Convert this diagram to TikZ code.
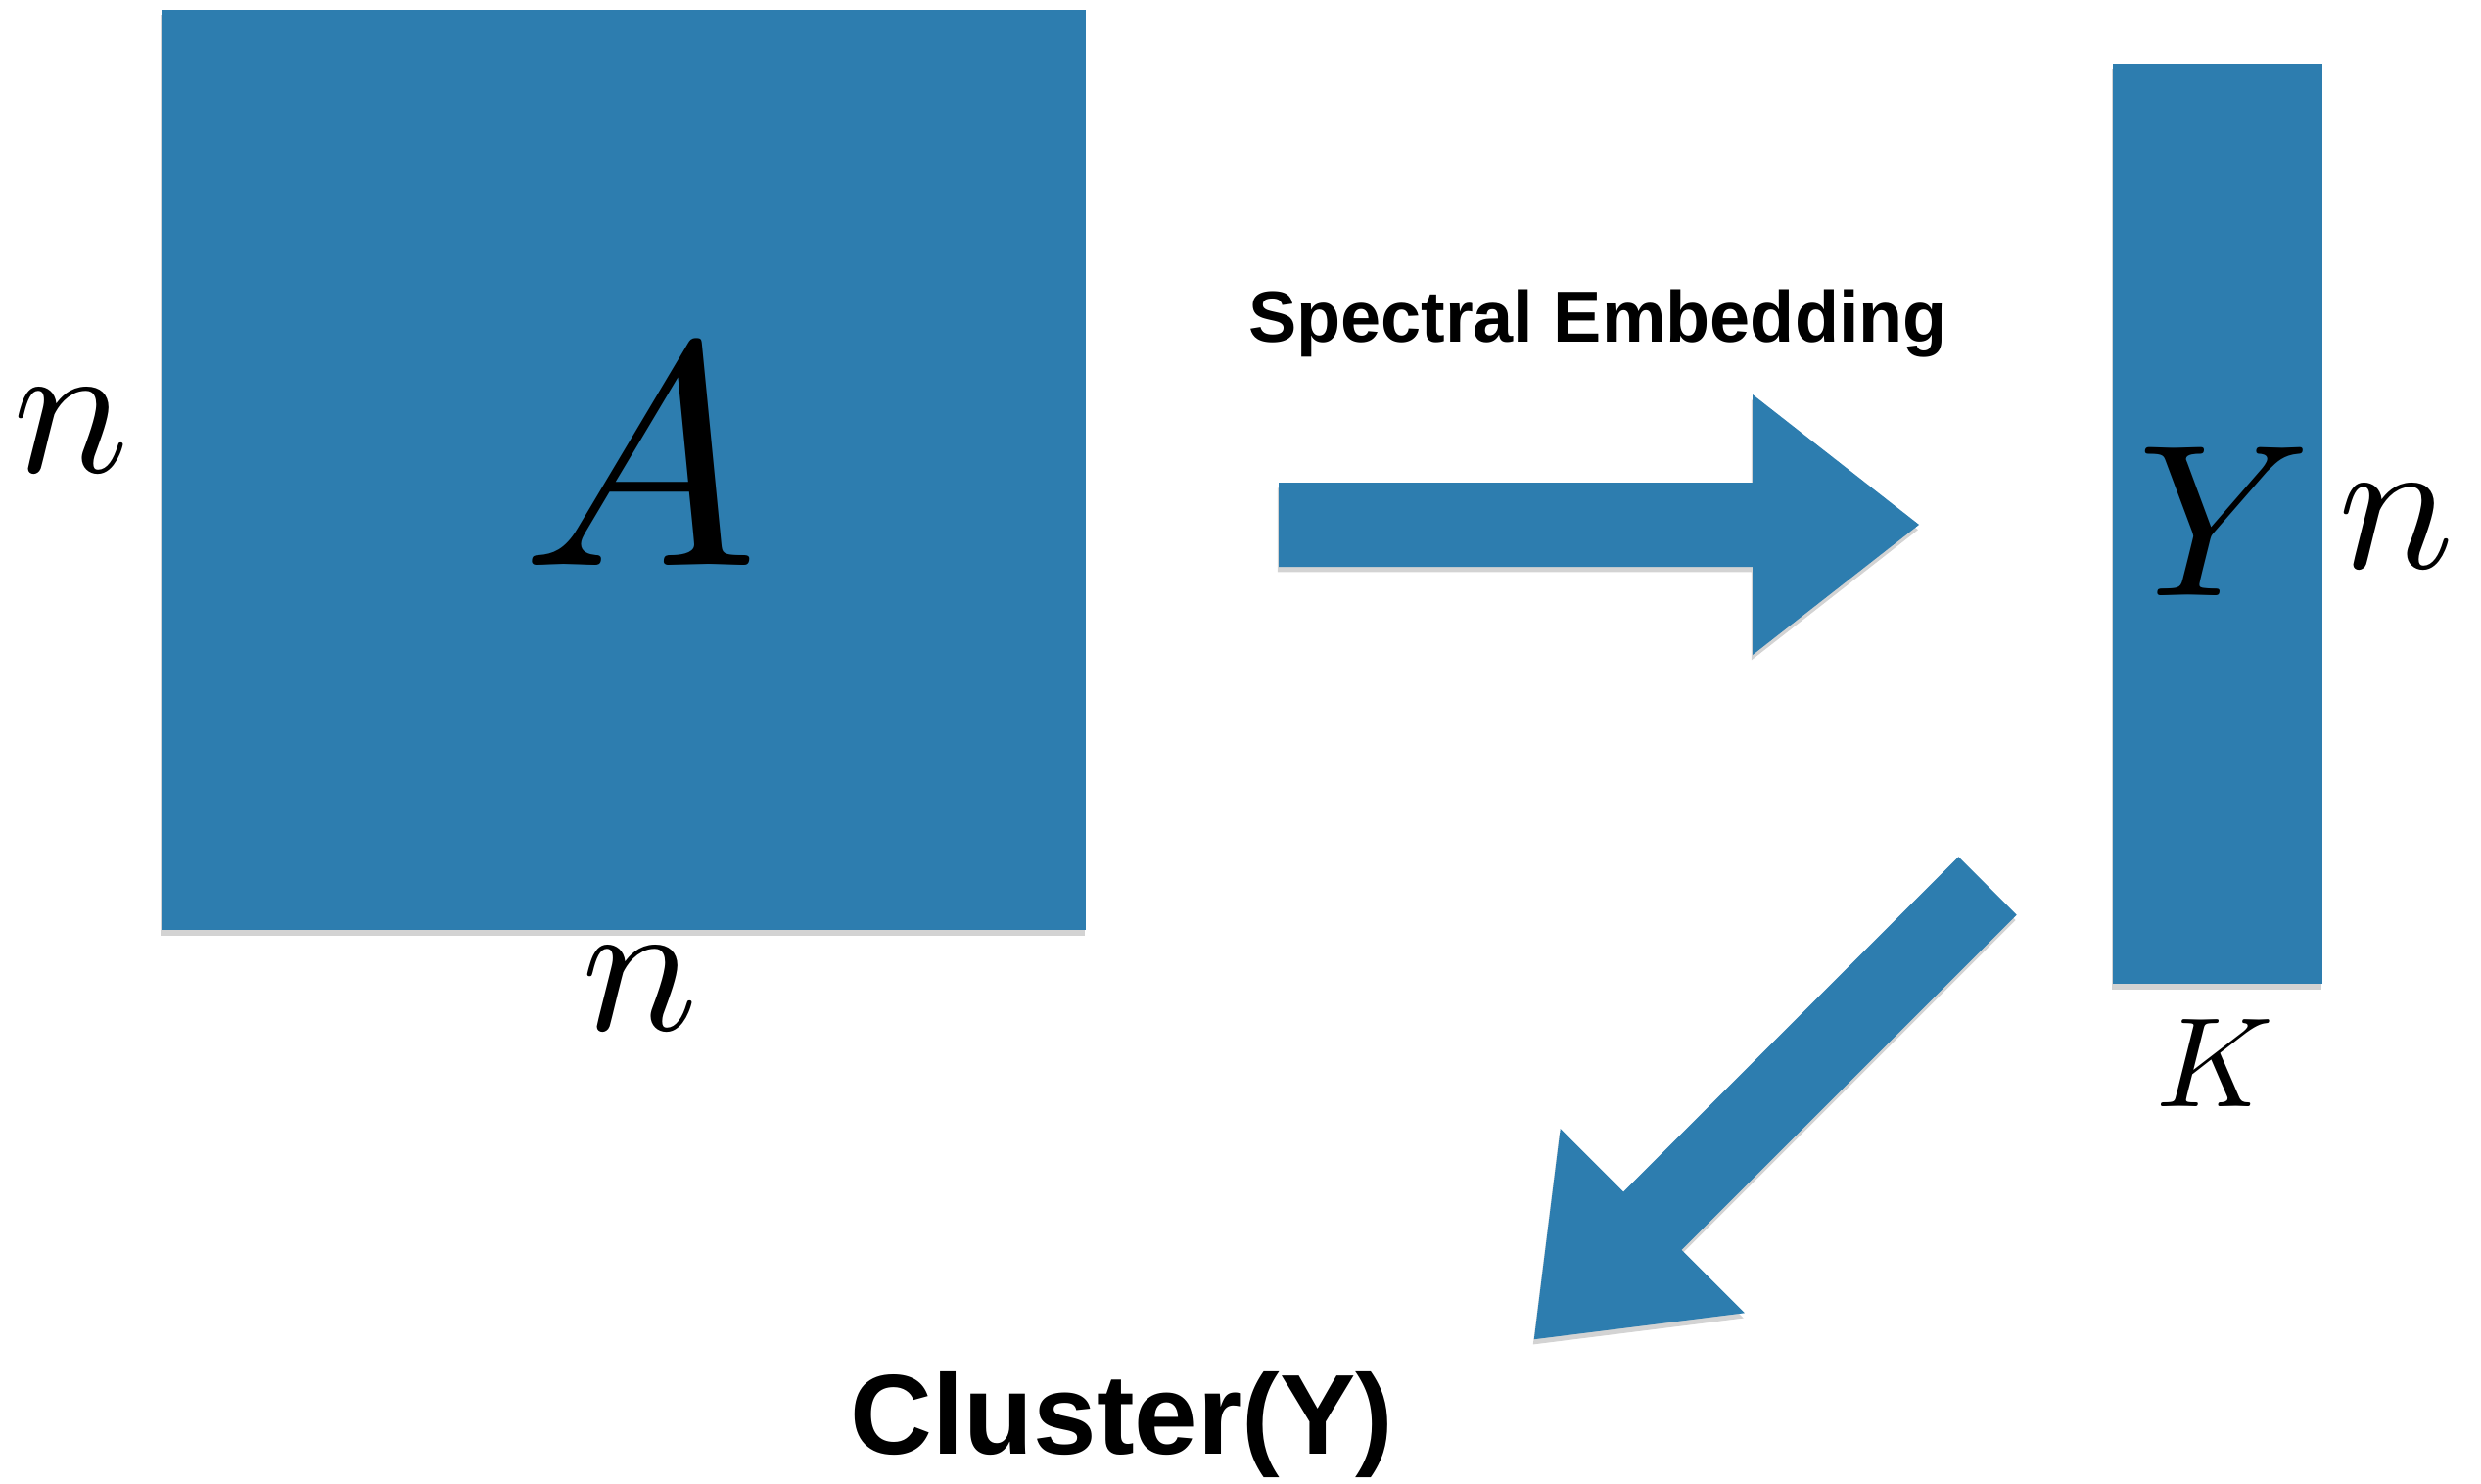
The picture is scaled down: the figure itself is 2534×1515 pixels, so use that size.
\documentclass[tikz,border=0pt]{standalone}
\usepackage{fontspec}
\newfontfamily\headfont{Liberation Sans}
\usetikzlibrary{positioning,shadows}
\definecolor{feltblue}{RGB}{45,125,175}
\tikzset{
  feltshadow/.style={drop shadow={shadow xshift=-0.3pt,shadow yshift=-1.5pt,opacity=.35}},
  matrixbox/.style={fill=feltblue,draw=none,inner sep=0pt,feltshadow},
  blockarrow/.style={fill=feltblue,feltshadow},
  mathlabel/.style={inner sep=0pt},
  dimlabel/.style={mathlabel,scale=5.6},
  steplabel/.style={inner sep=0pt,font=\headfont\bfseries\fontsize{21}{21}\selectfont}
}

\begin{document}
\begin{tikzpicture}[x=0.01cm,y=-0.01cm]
  \useasboundingbox (0,0) rectangle (2534,1515);
  % the two matrices
  \node[matrixbox,minimum width=9.44cm,minimum height=9.40cm] (matA) at (637,480) {};
  \node[matrixbox,minimum width=2.13cm,minimum height=9.40cm] (matY) at (2265,535) {};
  \node[mathlabel,scale=9.2] (nameA) at (654,467) {$A$};
  \node[mathlabel,scale=6.3] (nameY) at (2272,533) {$Y$};
  % sizes
  \node[dimlabel] (rowsA) at (73,440) {$n$};
  \node[dimlabel] (colsA) at (654,1010) {$n$};
  \node[dimlabel] (rowsY) at (2448,538) {$n$};
  \node[mathlabel,scale=3.7] (colsY) at (2262,1086) {$K$};
  % the two steps
  \coordinate (embedtail) at (1306,536);
  \coordinate (clustertail) at (2030,905);
  \begin{scope}[shift={(embedtail)}]
    \fill[blockarrow] (0,-43) -- (484,-43) -- (484,-133) -- (654,0)
      -- (484,133) -- (484,43) -- (0,43) -- cycle;
  \end{scope}
  \begin{scope}[shift={(clustertail)},rotate=225]
    \fill[blockarrow] (0,-42) -- (484,-42) -- (484,-133) -- (655,0)
      -- (484,133) -- (484,42) -- (0,42) -- cycle;
  \end{scope}
  \node[steplabel] (embed) at (1632,331) {Spectral Embedding};
  \node[steplabel,font=\headfont\bfseries\fontsize{33}{33}\selectfont] (cluster) at (1146,1455) {Cluster(Y)};
\end{tikzpicture}
\end{document}
